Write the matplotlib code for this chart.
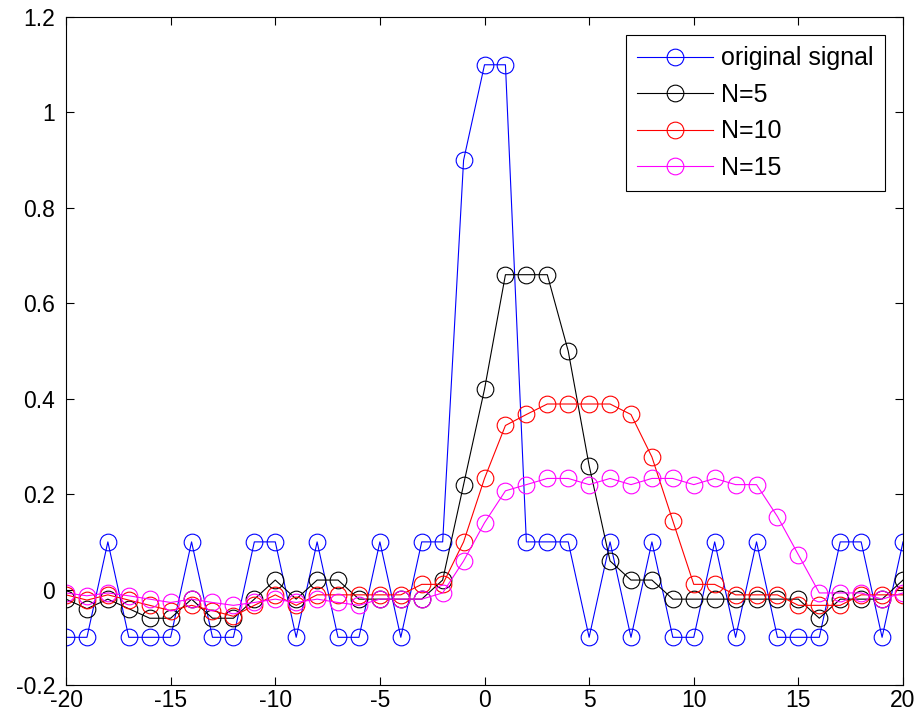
import numpy as np
import matplotlib.pyplot as plt

plt.rcParams['font.family'] = ['Liberation Sans', 'DejaVu Sans']
plt.rcParams['axes.unicode_minus'] = False

n = np.arange(-20, 21)

original = [-0.1, -0.1, 0.1, -0.1, -0.1, -0.1, 0.1, -0.1, -0.1, 0.1,
            0.1, -0.1, 0.1, -0.1, -0.1, 0.1, -0.1, 0.1, 0.1, 0.9,
            1.1, 1.1, 0.1, 0.1, 0.1, -0.1, 0.1, -0.1, 0.1, -0.1,
            -0.1, 0.1, -0.1, 0.1, -0.1, -0.1, -0.1, 0.1, 0.1, -0.1, 0.1]

avg5 = [-0.02, -0.04, -0.02, -0.04, -0.06, -0.06, -0.02, -0.06, -0.06, -0.02,
        0.02, -0.02, 0.02, 0.02, -0.02, -0.02, -0.02, -0.02, 0.02, 0.22,
        0.42, 0.66, 0.66, 0.66, 0.50, 0.26, 0.06, 0.02, 0.02, -0.02,
        -0.02, -0.02, -0.02, -0.02, -0.02, -0.02, -0.06, -0.02, -0.02, -0.02, 0.02]

avg10 = [-0.011, -0.022, -0.011, -0.022, -0.033, -0.044, -0.033, -0.044, -0.056, -0.033,
         -0.011, -0.033, -0.011, -0.011, -0.011, -0.011, -0.011, 0.011, 0.011, 0.100,
         0.233, 0.344, 0.367, 0.389, 0.389, 0.389, 0.389, 0.367, 0.278, 0.144,
         0.011, 0.011, -0.011, -0.011, -0.011, -0.033, -0.033, -0.033, -0.011, -0.011, -0.011]

avg15 = [-0.007, -0.013, -0.007, -0.013, -0.020, -0.027, -0.020, -0.027, -0.033, -0.027,
         -0.020, -0.027, -0.020, -0.027, -0.033, -0.020, -0.020, -0.020, -0.007, 0.060,
         0.140, 0.207, 0.220, 0.233, 0.233, 0.220, 0.233, 0.220, 0.233, 0.233,
         0.220, 0.233, 0.220, 0.220, 0.153, 0.073, -0.007, -0.007, -0.007, -0.020, -0.007]

fig = plt.figure(figsize=(9.22, 7.17), dpi=100)
ax = fig.add_axes([0.0716, 0.0446, 0.9078, 0.9316])

style = dict(marker='o', markersize=12, markerfacecolor='none',
             linewidth=0.8, markeredgewidth=0.8)
ax.plot(n, original, color='#0000ff', label='original signal', **style)
ax.plot(n, avg5, color='black', label='N=5', **style)
ax.plot(n, avg10, color='#ff0000', label='N=10', **style)
ax.plot(n, avg15, color='#ff00ff', label='N=15', **style)

ax.set_xlim(-20, 20)
ax.set_ylim(-0.2, 1.2)
ax.set_xticks(np.arange(-20, 21, 5))
ax.set_yticks([-0.2, 0, 0.2, 0.4, 0.6, 0.8, 1, 1.2])
ax.set_yticklabels(['-0.2', '0', '0.2', '0.4', '0.6', '0.8', '1', '1.2'])
ax.tick_params(direction='in', top=True, right=True, labelsize=16.5, length=6, width=0.8)
ax.tick_params(axis='x', pad=3)
ax.tick_params(axis='y', pad=8)
for s in ax.spines.values():
    s.set_linewidth(0.8)

leg = ax.legend(loc='upper right', fontsize=18, handlelength=3.05, handletextpad=0.32,
                fancybox=False, edgecolor='black', framealpha=1, borderaxespad=0.72,
                borderpad=0.45, labelspacing=0.5)
leg.get_frame().set_linewidth(0.8)

plt.savefig('out.png', dpi=100)
